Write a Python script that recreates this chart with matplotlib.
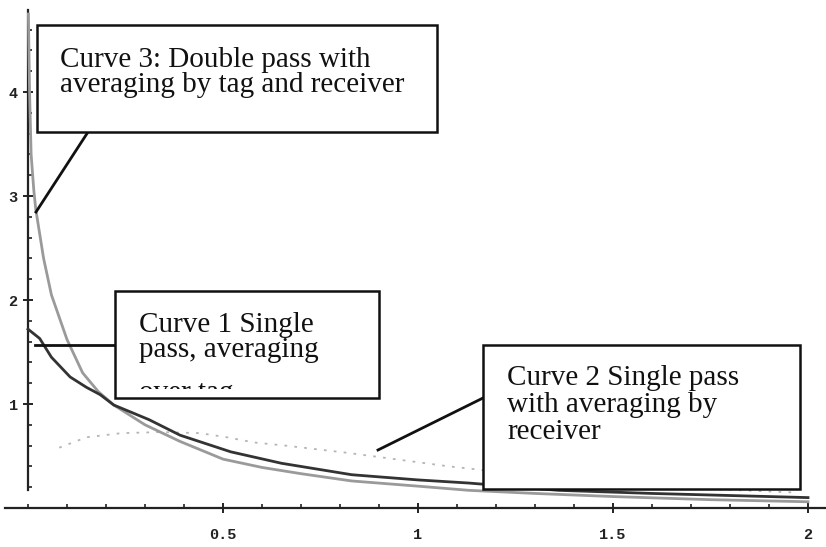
import matplotlib
matplotlib.use("Agg")
import matplotlib.pyplot as plt
from matplotlib.patches import Rectangle
from matplotlib.transforms import Bbox, TransformedBbox

# curve values
curve1_x = [0.0, 0.03, 0.06, 0.108, 0.15, 0.185, 0.22, 0.31, 0.39, 0.52, 0.65, 0.83, 1.0, 1.13, 1.36, 1.6, 1.8, 2.0]
curve1_y = [1.72, 1.63, 1.45, 1.26, 1.16, 1.09, 0.99, 0.85, 0.70, 0.54, 0.43, 0.32, 0.27, 0.24, 0.17, 0.14, 0.12, 0.10]

curve2_x = [0.08, 0.15, 0.24, 0.34, 0.44, 0.51, 0.58, 0.66, 0.82, 0.92, 1.0, 1.08, 1.13, 1.3, 1.5, 1.7, 1.96]
curve2_y = [0.58, 0.68, 0.72, 0.73, 0.72, 0.68, 0.63, 0.60, 0.53, 0.48, 0.44, 0.40, 0.38, 0.30, 0.24, 0.19, 0.15]

curve3_x = [0.001, 0.004, 0.008, 0.015, 0.02, 0.04, 0.06, 0.1, 0.14, 0.18, 0.22, 0.3, 0.39, 0.5, 0.6, 0.7, 0.83, 1.0, 1.13, 1.3, 1.5, 1.75, 2.0]
curve3_y = [4.75, 4.0, 3.4, 3.05, 2.87, 2.4, 2.05, 1.62, 1.3, 1.12, 0.99, 0.80, 0.64, 0.47, 0.39, 0.33, 0.26, 0.21, 0.17, 0.14, 0.11, 0.08, 0.06]

xticks = [0.5, 1, 1.5, 2]
xtick_labels = ["0.5", "1", "1.5", "2"]
yticks = [1, 2, 3, 4]
ytick_labels = ["1", "2", "3", "4"]

label3 = ["Curve 3: Double pass with", "averaging by tag and receiver"]
label1 = ["Curve 1 Single", "pass, averaging"]
label1_cut = "over tag"
label2 = ["Curve 2 Single pass", "with averaging by", "receiver"]

W, H = 826, 547
# pixel -> data mapping of the original picture
X0, XS = 28, 390.0
Y0, YS = 508, 104.0


def px(x, y):
    return (x - X0) / XS, (Y0 - y) / YS


fig = plt.figure(figsize=(W / 100, H / 100), dpi=100)
ax = fig.add_axes([0, 0, 1, 1])
ax.set_xlim(px(0, 0)[0], px(W, 0)[0])
ax.set_ylim(px(0, H)[1], px(0, 0)[1])
ax.patch.set_visible(False)

for s in ["top", "right"]:
    ax.spines[s].set_visible(False)
ax.spines["left"].set_position(("data", 0))
ax.spines["bottom"].set_position(("data", 0))
ax.spines["left"].set_bounds(px(0, 490)[1], px(0, 10)[1])
ax.spines["bottom"].set_bounds(px(5, 0)[0], px(W, 0)[0])
for s in ["left", "bottom"]:
    ax.spines[s].set_linewidth(1.6)
    ax.spines[s].set_color("#222222")

ax.set_xticks(xticks)
ax.set_xticklabels(xtick_labels)
ax.set_xticks([i / 10 for i in range(0, 21)], minor=True)
ax.set_yticks(yticks)
ax.set_yticklabels(ytick_labels)
ax.set_yticks([i / 5 for i in range(1, 24)], minor=True)
ax.tick_params(which="major", direction="inout", length=7, width=1.4, color="#222222",
               labelsize=11)
ax.tick_params(axis="x", which="major", pad=11)
ax.tick_params(axis="y", which="major", pad=4)
ax.tick_params(which="minor", direction="in", length=3, width=1.2, color="#222222")
for lab in ax.get_xticklabels() + ax.get_yticklabels():
    lab.set_family("Liberation Mono")
    lab.set_fontweight("bold")
    lab.set_color("#222222")

ax.plot(curve3_x, curve3_y, color="#9a9a9a", lw=2.0, zorder=3)
ax.plot(curve1_x, curve1_y, color="#333333", lw=2.0, zorder=4)
ax.plot(curve2_x, curve2_y, color="#b5b5b5", lw=1.3, ls=(0, (1.5, 4)), zorder=2)

font = dict(family="Liberation Serif", fontsize=21, color="#111111")


def box(x1, y1, x2, y2):
    (a, b), (c, d) = px(x1, y2), px(x2, y1)
    r = Rectangle((a, b), c - a, d - b, facecolor="white", edgecolor="#111111",
                  lw=1.8, zorder=6)
    ax.add_patch(r)


def write(lines, x, y, step):
    for i, s in enumerate(lines):
        ax.text(*px(x, y + i * step), s, va="baseline", ha="left", zorder=7, **font)


def leader(p, q):
    (a, b), (c, d) = px(*p), px(*q)
    ax.plot([a, c], [b, d], color="#111111", lw=2.0, zorder=5)


# Curve 3 label
box(37, 25, 437, 132)
write(label3, 60, 67, 25)
leader((88, 132), (36, 212))

# Curve 1 label (last line cut off inside the frame)
box(115, 291, 379, 398)
write(label1, 139, 332, 25)
t = ax.text(*px(139, 400), label1_cut, va="baseline", ha="left", zorder=7, **font)
(a, b), (c, d) = px(117, 389), px(377, 293)
t.set_clip_box(TransformedBbox(Bbox([[a, b], [c, d]]), ax.transData))
t.set_clip_on(True)
leader((115, 345), (35, 345))

# Curve 2 label
box(483, 345, 800, 489)
write(label2, 507, 385, 27)
leader((483, 398), (378, 450))

fig.savefig("out.png", dpi=100)
